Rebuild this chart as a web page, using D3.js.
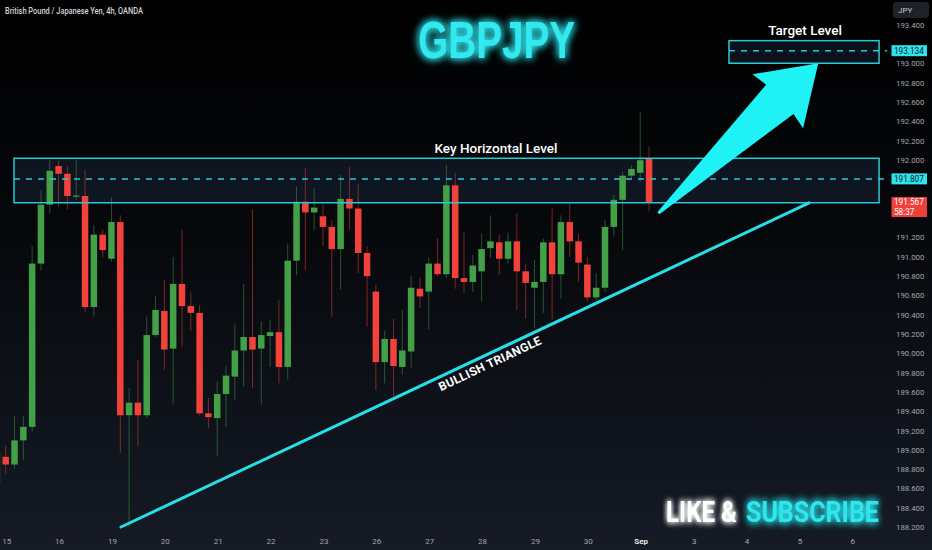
<!DOCTYPE html>
<html><head><meta charset="utf-8">
<script src="https://cdn.jsdelivr.net/npm/d3@7/dist/d3.min.js"></script>
<style>html,body{margin:0;padding:0;background:#000;overflow:hidden}</style>
</head><body>
<svg id="chart" width="932" height="550"></svg>
<script>
// ---- DATA (GBPJPY 4h candles) ----
const opens  = [188.66,188.93,188.85,189.10,189.24,190.93,191.54,191.94,191.86,191.63,191.63,190.48,191.23,190.98,191.36,189.36,189.49,189.36,190.19,190.44,190.05,190.72,190.49,190.42,189.38,189.33,189.58,189.76,190.03,190.17,190.05,190.18,190.22,189.86,190.96,191.57,191.46,191.42,191.31,191.08,191.60,191.50,191.04,190.64,189.91,190.15,189.86,190.02,190.67,190.64,190.93,190.82,191.74,190.78,190.74,190.85,191.09,191.15,190.98,191.16,190.85,190.68,190.74,191.15,190.82,191.36,191.16,190.92,190.58,190.68,191.31,191.59,191.84,191.87,192.02];
const highs  = [189.05,189.05,189.35,189.35,191.11,191.69,192.00,191.99,191.94,192.00,191.90,191.33,191.28,191.62,191.43,189.64,189.93,190.38,190.59,190.76,191.00,191.28,190.64,190.50,189.54,189.71,189.87,190.31,190.72,191.49,190.33,190.35,190.55,191.13,191.73,191.92,191.71,191.54,191.38,191.85,191.93,191.75,191.11,190.71,190.24,190.36,190.45,190.80,190.78,190.99,191.19,191.95,191.87,191.26,191.02,191.24,191.43,191.23,191.25,191.45,190.93,190.97,191.19,191.50,191.43,191.55,191.24,191.00,190.83,191.38,191.64,191.88,191.95,192.50,192.14];
const lows   = [188.60,188.76,188.81,188.90,189.19,190.86,191.45,191.52,191.49,191.59,190.43,190.38,190.99,190.95,188.97,188.20,189.04,189.33,190.17,189.83,189.48,190.07,190.23,189.36,189.23,188.94,189.24,189.52,189.66,189.64,189.47,189.86,189.69,189.73,190.81,190.86,191.28,191.11,190.38,190.66,191.28,190.83,190.28,189.62,189.69,189.55,189.78,189.85,190.47,190.25,190.80,190.78,190.67,190.62,190.64,190.54,190.99,190.81,190.93,190.45,190.36,190.26,190.42,190.35,190.57,191.00,190.74,190.54,190.55,190.64,191.21,191.07,191.81,191.78,191.47];
const closes = [188.97,188.85,189.10,189.24,190.93,191.54,191.89,191.86,191.63,191.635,190.48,191.23,191.07,191.36,189.36,189.49,189.36,190.19,190.45,190.04,190.72,190.49,190.42,189.38,189.34,189.58,189.77,190.03,190.17,190.04,190.19,190.22,189.86,190.96,191.57,191.46,191.51,191.31,191.08,191.60,191.50,191.04,190.80,189.91,190.15,189.87,190.03,190.68,190.59,190.93,190.82,191.74,190.78,190.74,190.91,191.08,191.16,190.98,191.16,190.85,190.73,190.74,191.15,190.82,191.36,191.16,190.94,190.58,190.68,191.31,191.59,191.84,191.91,192.00,191.567];

const dayLabels = ["15","16","19","20","21","22","23","26","27","28","29","30","Sep","3","4","5","6"];
const dayStartIndex = [1,7,13,19,25,31,37,43,49,55,61,67,73,79,85,91,97];
const priceTicks = [188.2,188.4,188.6,188.8,189.0,189.2,189.4,189.6,189.8,190.0,190.2,190.4,190.6,190.8,191.0,191.2,191.4,191.6,191.8,192.0,192.2,192.4,192.6,192.8,193.0,193.2,193.4];

// annotation levels (price) and spans (bar index)
const keyZone    = [191.56, 191.807, 192.02];   // bottom, level, top
const keyZoneSpan = [1.94, 100.1];
const targetZone = [193.004, 193.134, 193.238];
const targetZoneSpan = [83.07, 100.1];
const trendIdx   = [14.08, 92.15];
const trendPrice = [188.203, 191.558];
const arrowIdx   = [75.05, 93.2];
const arrowPrice = [191.451, 193.004];
const lastPrice = 191.567;
const countdown = "58:37";

// ---- SCALES ----
const W = 932, H = 550;
const x = d3.scaleLinear().domain([0, 100]).range([-3.1, 878.2]);
const y = d3.scaleLinear().domain([188.2, 193.4]).range([527.3, 25]);

const svg = d3.select("#chart");
const defs = svg.append("defs");
const bg = defs.append("linearGradient").attr("id","bg").attr("x1",0).attr("y1",0).attr("x2",0).attr("y2",1);
bg.append("stop").attr("offset","0%").attr("stop-color","#000000");
bg.append("stop").attr("offset","45%").attr("stop-color","#07090d");
bg.append("stop").attr("offset","100%").attr("stop-color","#151a25");

function glow(id, sd){
  const f = defs.append("filter").attr("id",id).attr("x","-8%").attr("y","-40%").attr("width","116%").attr("height","180%");
  f.append("feGaussianBlur").attr("in","SourceGraphic").attr("stdDeviation",sd).attr("result","b");
  const m = f.append("feMerge");
  m.append("feMergeNode").attr("in","b");
  m.append("feMergeNode").attr("in","b");
  m.append("feMergeNode").attr("in","SourceGraphic");
}
glow("glowC", 4);
glow("glowW", 3);

svg.append("rect").attr("width",W).attr("height",H).attr("fill","url(#bg)");

const CY = "#2cc9d3";
function zoneFill(span, z){
  svg.append("rect").attr("x",x(span[0])).attr("y",y(z[2]))
    .attr("width",x(span[1])-x(span[0])).attr("height",y(z[0])-y(z[2]))
    .attr("fill","rgba(40,62,92,0.28)");
}
zoneFill(keyZoneSpan, keyZone);
zoneFill(targetZoneSpan, targetZone);

// candles
const candles = opens.map((o,i)=>({i,o,h:highs[i],l:lows[i],c:closes[i]}));
const UP="#43a047", DN="#f2423a";
const g = svg.append("g");
g.selectAll("line.w").data(candles).join("line")
  .attr("x1",d=>x(d.i)).attr("x2",d=>x(d.i))
  .attr("y1",d=>y(d.h)).attr("y2",d=>y(d.l))
  .attr("stroke",d=>d.c>=d.o?UP:DN).attr("stroke-opacity",0.5).attr("stroke-width",1);
g.selectAll("rect.b").data(candles).join("rect")
  .attr("x",d=>x(d.i)-3.25).attr("width",6.5)
  .attr("y",d=>y(Math.max(d.o,d.c)))
  .attr("height",d=>Math.max(1.2, Math.abs(y(d.o)-y(d.c))))
  .attr("fill",d=>d.c>=d.o?UP:DN);

function zoneLines(span, z){
  svg.append("rect").attr("x",x(span[0])).attr("y",y(z[2]))
    .attr("width",x(span[1])-x(span[0])).attr("height",y(z[0])-y(z[2]))
    .attr("fill","none").attr("stroke",CY).attr("stroke-width",1.5);
  svg.append("line").attr("x1",x(span[0])).attr("x2",x(span[1])+8)
    .attr("y1",y(z[1])).attr("y2",y(z[1]))
    .attr("stroke",CY).attr("stroke-width",1.5).attr("stroke-dasharray","6,6");
}
zoneLines(keyZoneSpan, keyZone);
zoneLines(targetZoneSpan, targetZone);

// trend line
svg.append("line").attr("x1",x(trendIdx[0])).attr("y1",y(trendPrice[0]))
  .attr("x2",x(trendIdx[1])).attr("y2",y(trendPrice[1]))
  .attr("stroke","#27dde6").attr("stroke-width",3).attr("stroke-linecap","round");

const tx0=x(trendIdx[0]), ty0=y(trendPrice[0]), tx1=x(trendIdx[1]), ty1=y(trendPrice[1]);
const ang = Math.atan2(ty1-ty0, tx1-tx0)*180/Math.PI;
const mx = 486, my = ty0 + (mx-tx0)*(ty1-ty0)/(tx1-tx0);
svg.append("text").attr("transform",`translate(${mx},${my}) rotate(${ang})`)
  .attr("y",13.5).attr("text-anchor","middle")
  .attr("font-family","Roboto, 'Liberation Sans', sans-serif").attr("font-weight",700)
  .attr("font-size",12).attr("fill","#ffffff").attr("letter-spacing",0.3).text("BULLISH TRIANGLE");

// arrow
(function(){
  const T=[x(arrowIdx[0]), y(arrowPrice[0])], P=[x(arrowIdx[1]), y(arrowPrice[1])];
  const dx=P[0]-T[0], dy=P[1]-T[1], L=Math.hypot(dx,dy);
  const u=[dx/L, dy/L], n=[-u[1], u[0]];
  const pt=(a,b)=>[T[0]+u[0]*a+n[0]*b, T[1]+u[1]*a+n[1]*b];
  const s = L/237;
  const pts=[pt(0,1.5), pt(180*s,20), pt(177*s,37), pt(L,0), pt(177*s,-37), pt(180*s,-20), pt(0,-1.5)];
  svg.append("path").attr("d", d3.line()(pts)+"Z").attr("fill","#1ef2f4");
})();

// texts
const F = "Roboto, 'Noto Sans', sans-serif";
svg.append("text").attr("x",5).attr("y",13.5).attr("font-family",F).attr("font-weight",500)
  .attr("font-size",9.5).attr("fill","#d1d4dc").attr("textLength",138).attr("lengthAdjust","spacingAndGlyphs")
  .text("British Pound / Japanese Yen, 4h, OANDA");

svg.append("text").attr("x",496.7).attr("y",58.3).attr("text-anchor","middle")
  .attr("font-family","'Liberation Sans', Arial, sans-serif").attr("font-weight",700)
  .attr("font-size",51).attr("fill","#30e9f0").attr("filter","url(#glowC)")
  .attr("textLength",157).attr("lengthAdjust","spacingAndGlyphs").text("GBPJPY");

svg.append("text").attr("x",496).attr("y",153).attr("text-anchor","middle")
  .attr("font-family",F).attr("font-weight",500).attr("font-size",13.5).attr("fill","#ffffff")
  .text("Key Horizontal Level");
svg.append("text").attr("x",805).attr("y",35).attr("text-anchor","middle")
  .attr("font-family",F).attr("font-weight",500).attr("font-size",13.5).attr("fill","#ffffff")
  .text("Target Level");

// LIKE & SUBSCRIBE: condensed look via horizontal scale transform
function condensed(str, x0, x1, fill, filt){
  const t = svg.append("text").attr("x",0).attr("y",0)
    .attr("font-family",F).attr("font-weight",700).attr("font-size",29).attr("fill",fill)
    .attr("filter",filt).text(str);
  const w = t.node().getComputedTextLength();
  t.attr("transform",`translate(${x0},522.3) scale(${(x1-x0)/w},1)`);
}
condensed("LIKE &", 666, 737, "#ffffff", "url(#glowW)");
condensed("SUBSCRIBE", 746, 879, "#2ee6ee", "url(#glowC)");

// time axis
svg.append("g").selectAll("text").data(dayLabels).join("text")
  .attr("x",(d,k)=>x(dayStartIndex[k])+1).attr("y",544).attr("text-anchor","middle")
  .attr("font-family",F).attr("font-size",8).attr("font-weight",d=>d==="Sep"?700:400)
  .attr("fill",d=>d==="Sep"?"#e8eaee":"#a3a6af").text(d=>d);

// price axis (ticks hidden under the price badges are skipped)
const badgeLevels = [targetZone[1], keyZone[1], lastPrice];
const visibleTicks = priceTicks.filter(v => badgeLevels.every(b => Math.abs(y(v) - y(b) - (b===lastPrice?5:0)) > 12));
svg.append("g").selectAll("text").data(visibleTicks).join("text")
  .attr("x",896).attr("y",d=>y(d)+2.8)
  .attr("font-family",F).attr("font-size",7.8).attr("fill","#a3a6af")
  .text(d=>d.toFixed(3));

// JPY box
svg.append("rect").attr("x",893).attr("y",2).attr("width",36).attr("height",16).attr("rx",3).attr("fill","#1e222b");
svg.append("text").attr("x",898).attr("y",13).attr("font-family",F).attr("font-size",8).attr("fill","#c3c6ce").text("JPY");

// price badges
function badge(v, fill, tcol){
  svg.append("rect").attr("x",891.5).attr("y",y(v)-5.5).attr("width",35.5).attr("height",11).attr("fill",fill);
  svg.append("text").attr("x",894).attr("y",y(v)+3).attr("font-family",F).attr("font-size",8.2)
    .attr("fill",tcol).text(v.toFixed(3));
}
badge(targetZone[1], "#2ee4ec", "#0e1a22");
badge(keyZone[1], "#2ee4ec", "#0e1a22");
svg.append("rect").attr("x",891.5).attr("y",y(lastPrice)-5).attr("width",35.5).attr("height",20).attr("fill","#f0403a");
svg.append("text").attr("x",894).attr("y",y(lastPrice)+3.2).attr("font-family",F).attr("font-size",8.2).attr("fill","#ffffff").text(lastPrice.toFixed(3));
svg.append("text").attr("x",894).attr("y",y(lastPrice)+12.5).attr("font-family",F).attr("font-size",8.2).attr("fill","#ffffff").text(countdown);
</script>
</body></html>
